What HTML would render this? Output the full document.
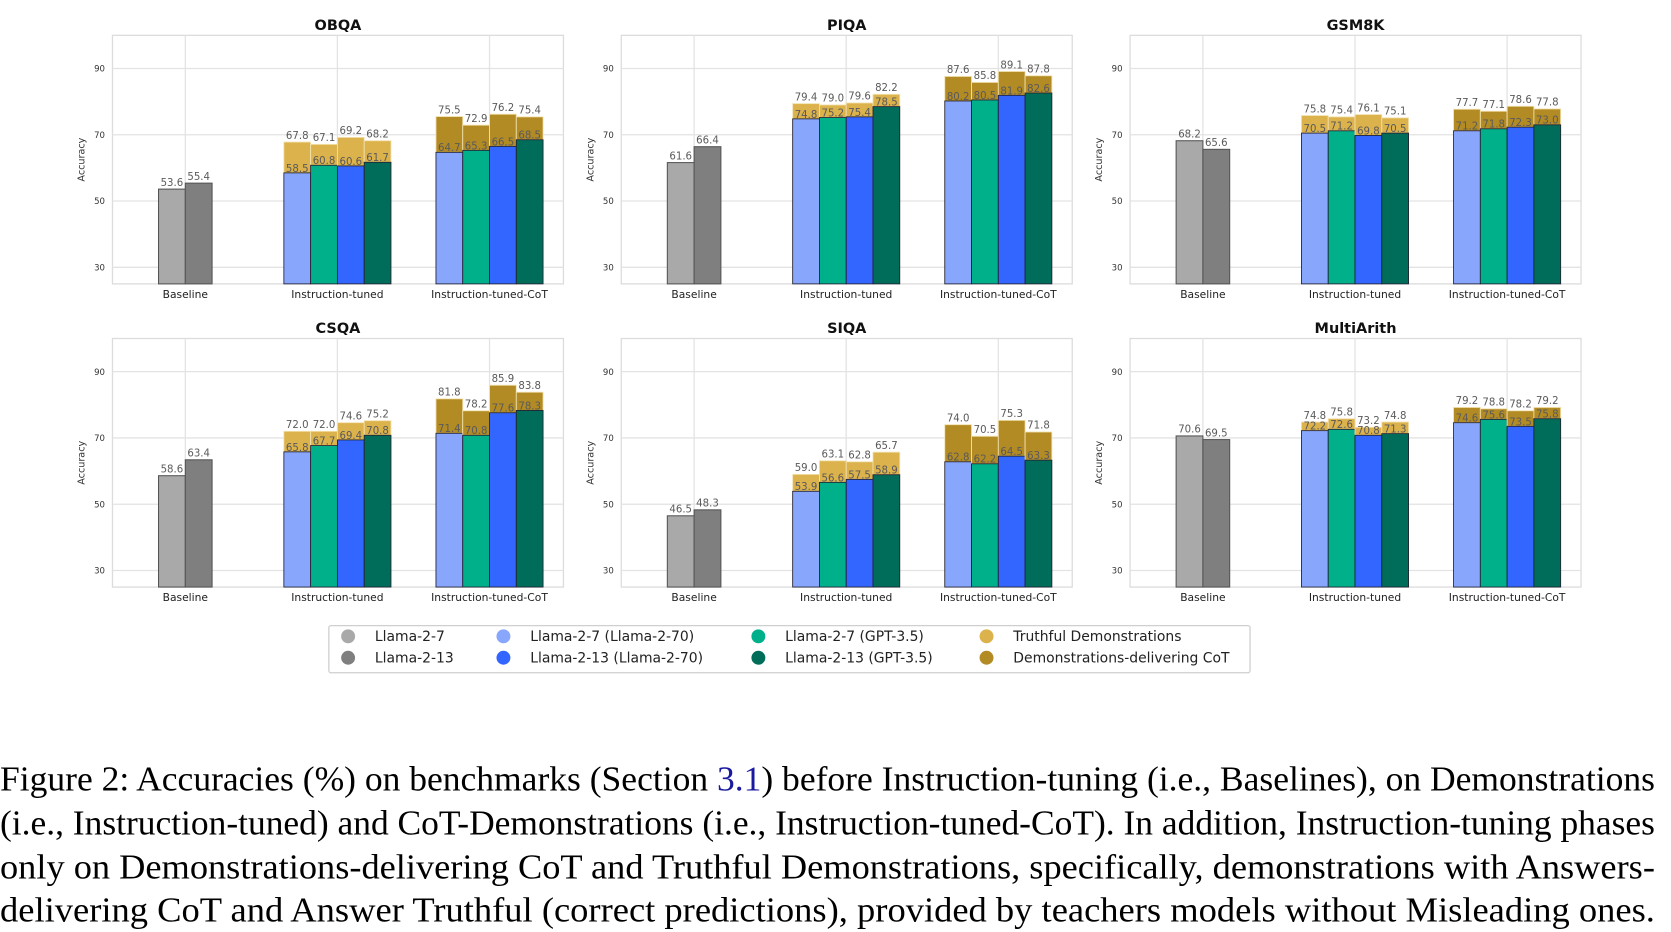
<!DOCTYPE html>
<html><head><meta charset="utf-8"><style>
html,body{margin:0;padding:0;background:#fff;}
svg{display:block;}
</style></head><body>
<svg id="fig" width="1671" height="932" viewBox="0 0 1560 870" preserveAspectRatio="none" xmlns="http://www.w3.org/2000/svg" font-family="'DejaVu Sans','Liberation Sans',sans-serif"></svg>
<script>
const panelTitles = ["OBQA","PIQA","GSM8K","CSQA","SIQA","MultiArith"];
const groups = ["Baseline","Instruction-tuned","Instruction-tuned-CoT"];
const yTicks = [30,50,70,90];
const baseline = [[53.6,55.4],[61.6,66.4],[68.2,65.6],[58.6,63.4],[46.5,48.3],[70.6,69.5]];
const itBase = [[58.5,60.8,60.6,61.7],[74.8,75.2,75.4,78.5],[70.5,71.2,69.8,70.5],[65.8,67.7,69.4,70.8],[53.9,56.6,57.5,58.9],[72.2,72.6,70.8,71.3]];
const itTop = [[67.8,67.1,69.2,68.2],[79.4,79.0,79.6,82.2],[75.8,75.4,76.1,75.1],[72.0,72.0,74.6,75.2],[59.0,63.1,62.8,65.7],[74.8,75.8,73.2,74.8]];
const cotBase = [[64.7,65.3,66.5,68.5],[80.2,80.5,81.9,82.6],[71.2,71.8,72.3,73.0],[71.4,70.8,77.6,78.3],[62.8,62.2,64.5,63.3],[74.6,75.6,73.5,75.8]];
const cotTop = [[75.5,72.9,76.2,75.4],[87.6,85.8,89.1,87.8],[77.7,77.1,78.6,77.8],[81.8,78.2,85.9,83.8],[74.0,70.5,75.3,71.8],[79.2,78.8,78.2,79.2]];
const legendLabels = ["Llama-2-7","Llama-2-13","Llama-2-7 (Llama-2-70)","Llama-2-13 (Llama-2-70)","Llama-2-7 (GPT-3.5)","Llama-2-13 (GPT-3.5)","Truthful Demonstrations","Demonstrations-delivering CoT"];

const grayC=["#a9a9a9","#7f7f7f"], modelC=["#88a6fb","#00b08b","#3366ff","#006d5b"], truthC="#dcb24c", cotC="#b38b24";
const svg=document.getElementById('fig'), NS="http://www.w3.org/2000/svg";
function el(t,a,p){const e=document.createElementNS(NS,t);for(const k in a)e.setAttribute(k,a[k]);(p||svg).appendChild(e);return e;}
const PW=421, PH=232, colX=[105,580,1055], rowY=[33,316], YMIN=25, YMAX=100, BW=25;

panelTitles.forEach((title,pi)=>{
  const px=colX[pi%3], py=rowY[Math.floor(pi/3)];
  const g=el('g',{});
  
  
  const y=v=>py+PH-(v-YMIN)/(YMAX-YMIN)*PH;
  const gx=i=>px+[68,210,352][i];
  el('rect',{x:px,y:py,width:PW,height:PH,fill:'#fff',stroke:'#dcdcdc','stroke-width':1.2},g);
  yTicks.forEach(t=>{
    el('line',{x1:px,x2:px+PW,y1:y(t),y2:y(t),stroke:'#e3e3e3','stroke-width':1.2},g);
    const tx=el('text',{x:px-7,y:y(t)+3,'font-size':8,'text-anchor':'end',fill:'#333'},g);tx.textContent=t;
  });
  groups.forEach((gn,i)=>{
    el('line',{x1:gx(i),x2:gx(i),y1:py,y2:py+PH,stroke:'#e3e3e3','stroke-width':1.2},g);
    const tx=el('text',{x:gx(i),y:py+PH+13,'font-size':10,'text-anchor':'middle',fill:'#222'},g);tx.textContent=gn;
  });
  const tt=el('text',{x:px+PW/2,y:py-5,'font-size':13.5,'font-weight':'bold','text-anchor':'middle',fill:'#111'},g);tt.textContent=title;
  const yl=el('text',{x:0,y:0,'font-size':9,'text-anchor':'middle',fill:'#333',transform:`translate(${px-26},${py+PH/2}) rotate(-90)`},g);yl.textContent='Accuracy';
  const bottom=py+PH;
  function lbl(x,yy,v){const t=el('text',{x:x,y:yy,'font-size':9.5,'text-anchor':'middle',fill:'#5a5a5a'},g);t.textContent=v.toFixed(1);}
  baseline[pi].forEach((v,j)=>{
    const x=gx(0)-BW+j*BW;
    const r=el('rect',{x:x,y:y(v),width:BW,height:bottom-y(v),fill:grayC[j],stroke:'#555','stroke-width':1},g);
    
    lbl(x+BW/2,y(v)-3,v);
  });
  [[itBase,itTop,truthC,1],[cotBase,cotTop,cotC,2]].forEach(([B,T,c,gi])=>{
    B[pi].forEach((b,j)=>{
      const t=T[pi][j], x=gx(gi)-2*BW+j*BW;
      const r2=el('rect',{x:x,y:y(t),width:BW,height:y(b)-y(t),fill:c,stroke:'#f2e2b0','stroke-width':0.8},g);
      
      const r=el('rect',{x:x,y:y(b),width:BW,height:bottom-y(b),fill:modelC[j],stroke:'#223','stroke-width':0.8},g);
      
      lbl(x+BW/2,y(t)-3,t);
      lbl(x+BW/2,y(b)-1,b);
    });
  });
});

// legend
const lg=el('g',{});


el('rect',{x:307,y:584,width:860,height:44,rx:2,fill:'#fff',stroke:'#cfcfcf','stroke-width':1.2},lg);
const legC=[grayC[0],grayC[1],modelC[0],modelC[2],modelC[1],modelC[3],truthC,cotC];
const legX=[325,470,708,921];
legendLabels.forEach((l,i)=>{
  const cx=legX[Math.floor(i/2)], cy=594+(i%2)*20;
  el('circle',{cx:cx,cy:cy,r:6.5,fill:legC[i]},lg);
  const t=el('text',{x:cx+25,y:cy+4.5,'font-size':13,fill:'#222'},lg);t.textContent=l;
  
});

// caption
const cap=["Figure 2: Accuracies (%) on benchmarks (Section 3.1) before Instruction-tuning (i.e., Baselines), on Demonstrations",
"(i.e., Instruction-tuned) and CoT-Demonstrations (i.e., Instruction-tuned-CoT). In addition, Instruction-tuning phases",
"only on Demonstrations-delivering CoT and Truthful Demonstrations, specifically, demonstrations with Answers-",
"delivering CoT and Answer Truthful (correct predictions), provided by teachers models without Misleading ones."];
const capY=[738,779,820,860];
cap.forEach((c,i)=>{
  const t=el('text',{x:0,y:capY[i],'font-size':32.5,'font-family':"'Liberation Serif',serif",fill:'#000',textLength:1545,lengthAdjust:'spacingAndGlyphs'});
  
  if(i===0){
    const parts=c.split('3.1');
    const a=el('tspan',{},t);a.textContent=parts[0];
    const b=el('tspan',{fill:'#1a1aa0'},t);b.textContent='3.1';
    const d=el('tspan',{},t);d.textContent=parts[1];
  } else t.textContent=c;
});
</script>
</body></html>
